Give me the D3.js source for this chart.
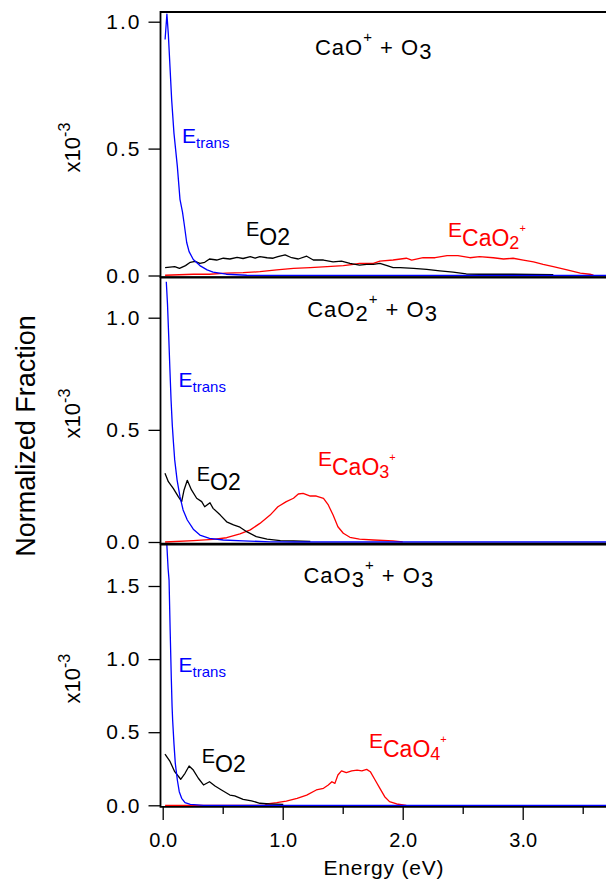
<!DOCTYPE html>
<html>
<head>
<meta charset="utf-8">
<script src="https://cdn.jsdelivr.net/npm/d3@7"></script>
<style>
  body { margin: 0; background: #fff; }
  svg { display: block; }
  text { font-family: "Liberation Sans", Arial, sans-serif; fill: #000; }
</style>
</head>
<body>
<svg id="chart" width="606" height="882"></svg>
<script>
// ---- energy axis ----
const energyTicks = [0, 1, 2, 3];
const energyMinorTicks = [0.5, 1.5, 2.5, 3.5];

// ---- fraction axis ticks (x10^-3) ----
const fractionTicksA = [0, 0.5, 1.0];
const fractionTicksB = [0, 0.5, 1.0];
const fractionTicksC = [0, 0.5, 1.0, 1.5];

// ---- CaO+ + O3 : [energy (eV), normalized fraction x10^-3] ----
const transA = [
  [0.02, 0.93], [0.035, 1.03], [0.047, 0.95], [0.061, 0.82], [0.075, 0.69],
  [0.094, 0.56], [0.122, 0.43], [0.144, 0.30], [0.165, 0.25], [0.18, 0.2],
  [0.2, 0.13], [0.22, 0.094], [0.255, 0.063], [0.31, 0.039], [0.37, 0.022],
  [0.42, 0.013], [0.53, 0.005], [0.7, 0.001], [0.9, 0], [3.75, 0]
];
const o2A = [
  [0.02, 0.031], [0.06, 0.033], [0.10, 0.035], [0.14, 0.028], [0.19, 0.039],
  [0.23, 0.052], [0.27, 0.056], [0.31, 0.048], [0.35, 0.052], [0.39, 0.065],
  [0.45, 0.061], [0.505, 0.068], [0.56, 0.065], [0.62, 0.071], [0.67, 0.067],
  [0.73, 0.074], [0.77, 0.068], [0.81, 0.074], [0.87, 0.070], [0.92, 0.068],
  [0.96, 0.074], [1.02, 0.081], [1.075, 0.070], [1.13, 0.065], [1.20, 0.076],
  [1.255, 0.061], [1.34, 0.061], [1.42, 0.054], [1.49, 0.057], [1.56, 0.048],
  [1.64, 0.041], [1.70, 0.044], [1.755, 0.044], [1.81, 0.048], [1.87, 0.039],
  [1.92, 0.031], [1.98, 0.031], [2.09, 0.028], [2.20, 0.024], [2.31, 0.018],
  [2.42, 0.013], [2.53, 0.006], [2.64, 0.005], [2.92, 0.005], [3.255, 0.003]
];
const productA = [
  [0.02, 0.001], [0.255, 0.005], [0.39, 0.005], [0.53, 0.009], [0.67, 0.011],
  [0.81, 0.015], [0.95, 0.022], [1.09, 0.028], [1.23, 0.031], [1.37, 0.035],
  [1.505, 0.039], [1.59, 0.044], [1.64, 0.048], [1.755, 0.048], [1.81, 0.057],
  [1.92, 0.061], [2.03, 0.068], [2.075, 0.061], [2.17, 0.070], [2.27, 0.070],
  [2.37, 0.078], [2.46, 0.078], [2.56, 0.070], [2.64, 0.074], [2.755, 0.070],
  [2.84, 0.065], [2.92, 0.068], [3.005, 0.061], [3.09, 0.054], [3.17, 0.044],
  [3.255, 0.035], [3.37, 0.022], [3.48, 0.009], [3.56, 0.005], [3.59, 0.001]
];

// ---- CaO2+ + O3 ----
const transB = [
  [0.03, 1.16], [0.04, 1.06], [0.05, 0.92], [0.06, 0.77], [0.07, 0.63],
  [0.08, 0.52], [0.09, 0.44], [0.10, 0.366], [0.12, 0.276], [0.144, 0.202],
  [0.17, 0.143], [0.205, 0.098], [0.255, 0.057], [0.31, 0.031], [0.39, 0.016],
  [0.505, 0.009], [0.67, 0.005], [0.9, 0.001], [1.1, 0], [3.75, 0]
];
const o2B = [
  [0.019, 0.306], [0.047, 0.269], [0.088, 0.239], [0.13, 0.202], [0.158, 0.18],
  [0.178, 0.232], [0.205, 0.275], [0.24, 0.232], [0.283, 0.195], [0.325, 0.18],
  [0.35, 0.157], [0.394, 0.175], [0.42, 0.15], [0.48, 0.12], [0.533, 0.09],
  [0.59, 0.076], [0.644, 0.066], [0.70, 0.046], [0.78, 0.024], [0.87, 0.013],
  [0.98, 0.006], [1.09, 0.005], [1.23, 0.003]
];
const productB = [
  [0.02, 0], [0.255, 0.006], [0.42, 0.012], [0.533, 0.019], [0.644, 0.036],
  [0.73, 0.054], [0.81, 0.083], [0.895, 0.12], [0.96, 0.157], [1.03, 0.18],
  [1.09, 0.195], [1.13, 0.214], [1.17, 0.217], [1.23, 0.205], [1.28, 0.205],
  [1.34, 0.195], [1.38, 0.165], [1.42, 0.12], [1.46, 0.068], [1.505, 0.039],
  [1.56, 0.021], [1.64, 0.013], [1.755, 0.009], [1.92, 0.005], [2.0, 0.001]
];

// ---- CaO3+ + O3 ----
const transC = [
  [0.03, 1.85], [0.045, 1.62], [0.053, 1.54], [0.062, 1.20], [0.072, 0.86],
  [0.078, 0.68], [0.083, 0.58], [0.094, 0.42], [0.105, 0.287], [0.122, 0.173],
  [0.138, 0.093], [0.158, 0.048], [0.186, 0.018], [0.23, 0.007], [0.34, 0], [3.75, 0]
];
const o2C = [
  [0.019, 0.35], [0.061, 0.30], [0.10, 0.23], [0.15, 0.178], [0.186, 0.219],
  [0.22, 0.269], [0.255, 0.241], [0.297, 0.185], [0.34, 0.139], [0.39, 0.161],
  [0.436, 0.132], [0.49, 0.105], [0.56, 0.07], [0.60, 0.064], [0.67, 0.041],
  [0.74, 0.031], [0.81, 0.014], [0.89, 0.009], [1.005, 0.007]
];
const productC = [
  [0.02, 0], [0.85, 0], [0.87, 0.009], [0.95, 0.018], [1.03, 0.029],
  [1.12, 0.048], [1.20, 0.07], [1.28, 0.105], [1.34, 0.116], [1.38, 0.139],
  [1.41, 0.161], [1.435, 0.15], [1.46, 0.207], [1.49, 0.236], [1.53, 0.223],
  [1.575, 0.236], [1.62, 0.241], [1.66, 0.236], [1.70, 0.246], [1.73, 0.23],
  [1.77, 0.173], [1.81, 0.116], [1.85, 0.059], [1.89, 0.025], [1.95, 0.009], [2.03, 0]
];

// ---- layout ----
const W = 606, H = 882;
const plotLeft = 160.5, plotRight = 610;
const BLUE = "#0000ff", RED = "#ff0000", BLACK = "#000000";

const x = d3.scaleLinear().domain([0, 3]).range([162.7, 522.7]);

const panels = [
  {
    top: 12, zero: 275.5, ref: 1.0, refY: 21.7, ticks: fractionTicksA,
    trans: transA, o2: o2A, product: productA,
    title: { at: [1.269, 0.869], ion: "CaO", ionSub: "" },
    transLabel: [0.161, 0.522], o2Label: [0.694, 0.156],
    prodLabel: { at: [2.378, 0.150], n: "2" }
  },
  {
    top: 277.5, zero: 542, ref: 1.0, refY: 317.7, ticks: fractionTicksB,
    trans: transB, o2: o2B, product: productB,
    title: { at: [1.204, 1.004], ion: "CaO", ionSub: "2" },
    transLabel: [0.132, 0.692], o2Label: [0.283, 0.273],
    prodLabel: { at: [1.294, 0.339], n: "3" }
  },
  {
    top: 544.5, zero: 805.3, ref: 1.5, refY: 586, ticks: fractionTicksC,
    trans: transC, o2: o2C, product: productC,
    title: { at: [1.173, 1.518], ion: "CaO", ionSub: "3" },
    transLabel: [0.132, 0.914], o2Label: [0.325, 0.287],
    prodLabel: { at: [1.719, 0.390], n: "4" }
  }
];

const svg = d3.select("#chart");

// text made of runs with their own size and baseline offset
function richText(g, px, py, color, runs, anchor, spacing) {
  const t = g.append("text").attr("x", px).attr("y", py)
    .attr("text-anchor", anchor || "start").style("fill", color);
  if (spacing) t.style("letter-spacing", spacing + "px");
  let prev = 0;
  runs.forEach(r => {
    t.append("tspan").attr("dy", r.shift - prev)
      .style("font-size", r.size + "px").text(r.text);
    prev = r.shift;
  });
  return t;
}

panels.forEach((p, i) => {
  const y = d3.scaleLinear().domain([0, p.ref]).range([p.zero, p.refY]);
  const bottom = p.zero + 1.6;
  const g = svg.append("g");

  const clipId = "clip" + i;
  svg.append("clipPath").attr("id", clipId).append("rect")
    .attr("x", plotLeft).attr("y", p.top).attr("width", W - plotLeft + 5)
    .attr("height", bottom - p.top);

  const line = d3.line().x(d => x(d[0])).y(d => y(d[1]));
  const curves = g.append("g").attr("clip-path", `url(#${clipId})`);
  [[p.product, RED], [p.o2, BLACK], [p.trans, BLUE]].forEach(([data, c]) => {
    curves.append("path").datum(data).attr("d", line)
      .attr("fill", "none").attr("stroke", c).attr("stroke-width", 1.3)
      .attr("stroke-linejoin", "round");
  });

  // frame: top, left and bottom edges
  g.append("path")
    .attr("d", `M${plotRight},${p.top}H${plotLeft}V${bottom}H${plotRight}`)
    .attr("fill", "none").attr("stroke", "#000").attr("stroke-width", 1.8);

  // fraction axis
  const ay = g.append("g").attr("transform", `translate(${plotLeft},0)`)
    .call(d3.axisLeft(y).tickValues(p.ticks).tickSize(12).tickPadding(7)
      .tickFormat(d3.format(".1f")));
  ay.select(".domain").remove();
  ay.selectAll(".tick line").attr("stroke-width", 1.3);
  ay.selectAll(".tick text").style("font-size", "21px")
    .style("font-family", '"Liberation Sans", Arial, sans-serif')
    .style("letter-spacing", "2px");

  // scale factor label
  const midY = (p.top + bottom) / 2 + 3;
  const sf = g.append("g").attr("transform", `translate(80,${midY}) rotate(-90)`);
  richText(sf, 0, 0, "#000", [
    { text: "x10", size: 22, shift: 0 },
    { text: "-3", size: 16, shift: -10 }
  ], "middle");

  // reaction title
  const tr = [{ text: p.title.ion, size: 22, shift: 0 }];
  if (p.title.ionSub) tr.push({ text: p.title.ionSub, size: 22, shift: 4 });
  tr.push({ text: "+", size: 15, shift: -13 });
  tr.push({ text: " + O", size: 22, shift: 0 });
  tr.push({ text: "3", size: 22, shift: 4 });
  richText(g, x(p.title.at[0]), y(p.title.at[1]), "#000", tr, "start", 1);

  // curve labels
  richText(g, x(p.transLabel[0]), y(p.transLabel[1]), BLUE, [
    { text: "E", size: 21, shift: 0 },
    { text: "trans", size: 15, shift: 5 }
  ]);
  richText(g, x(p.o2Label[0]), y(p.o2Label[1]), BLACK, [
    { text: "E", size: 20, shift: 0 },
    { text: "O2", size: 23, shift: 9 }
  ]);
  richText(g, x(p.prodLabel.at[0]), y(p.prodLabel.at[1]), RED, [
    { text: "E", size: 21, shift: 0 },
    { text: "CaO", size: 23, shift: 9 },
    { text: p.prodLabel.n, size: 18, shift: 12 },
    { text: "+", size: 11, shift: -5 }
  ]);

  p.bottom = bottom;
});

// energy axis below the last panel
const axisY = panels[2].bottom;
const ax = svg.append("g").attr("transform", `translate(0,${axisY})`)
  .call(d3.axisBottom(x).tickValues(energyTicks).tickSize(13).tickPadding(13)
    .tickFormat(d3.format(".1f")));
ax.select(".domain").remove();
ax.selectAll(".tick line").attr("stroke-width", 1.3);
ax.selectAll(".tick text").style("font-size", "20px")
  .style("font-family", '"Liberation Sans", Arial, sans-serif');
const axm = svg.append("g").attr("transform", `translate(0,${axisY})`)
  .call(d3.axisBottom(x).tickValues(energyMinorTicks).tickSize(7).tickFormat(""));
axm.select(".domain").remove();
axm.selectAll(".tick line").attr("stroke-width", 1.3);

svg.append("text").attr("x", 384).attr("y", 875).attr("text-anchor", "middle")
  .style("font-size", "21px").style("letter-spacing", "0.8px").text("Energy (eV)");

svg.append("text").attr("transform", "translate(35,436) rotate(-90)")
  .attr("text-anchor", "middle").style("font-size", "27px").text("Normalized Fraction");
</script>
</body>
</html>
